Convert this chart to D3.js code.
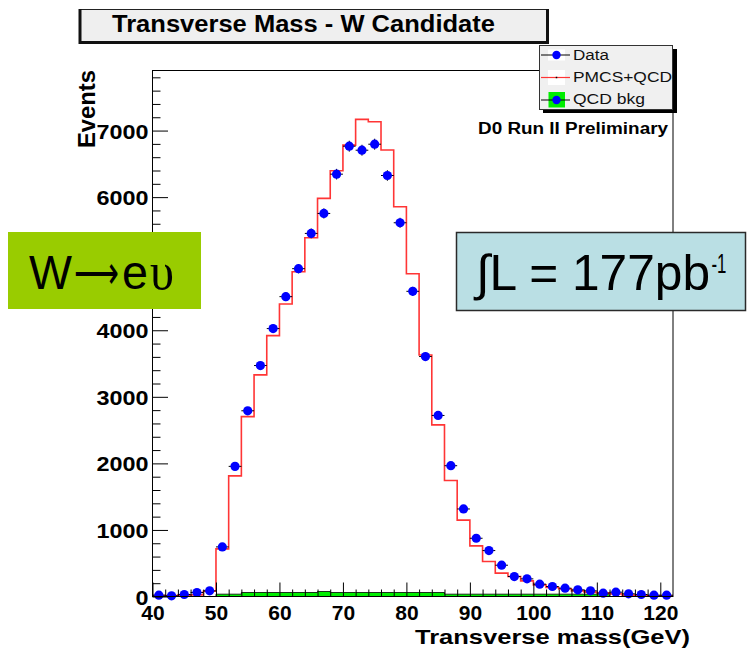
<!DOCTYPE html>
<html><head><meta charset="utf-8">
<script src="https://cdn.jsdelivr.net/npm/d3@7"></script>
<style>
html,body{margin:0;padding:0;background:#fff;}
svg{display:block;font-family:"Liberation Sans",Arial,Helvetica,sans-serif;}
</style></head><body>
<svg id="chart" width="747" height="653"></svg>
<script>
// Lower edges of the 2 GeV transverse-mass bins (40 .. 122 GeV)
const binLow = d3.range(40, 122, 2);
const binWidth = 2;

// Observed events per bin
const dataCounts = [
  20, 10, 30, 60, 85,
  745, 1955, 2790, 3470, 4025,
  4505, 4925, 5455, 5755, 6345,
  6765, 6705, 6795, 6325, 5615,
  4585, 3605, 2720, 1965, 1315,
  875, 690, 470, 300, 265,
  185, 150, 125, 100, 85,
  50, 65, 40, 30, 20,
  20
];

// PMCS simulation plus QCD background
const mcCounts = [
  15, 15, 20, 25, 80,
  716, 1812, 2703, 3329, 3920,
  4395, 4880, 5390, 5982, 6397,
  6782, 7168, 7132, 6707, 5856,
  4850, 3629, 2578, 1742, 1147,
  761, 526, 351, 300, 235,
  175, 135, 115, 85, 65,
  55, 40, 20, 10, 10,
  10
];

// QCD background estimate
const qcdCounts = [
  0, 0, 0, 0, 0,
  35, 35, 60, 60, 60,
  60, 60, 60, 75, 60,
  60, 60, 60, 60, 60,
  60, 60, 60, 35, 35,
  35, 35, 35, 35, 35,
  35, 35, 35, 35, 35,
  35, 0, 0, 0, 0,
  0
];

const xMajorTicks = d3.range(40, 121, 10);
const yMajorTicks = d3.range(0, 7001, 1000);

const titleText = "Transverse Mass - W Candidate";
const xTitle = "Transverse mass(GeV)";
const yTitle = "Events";
const legendLabels = ["Data", "PMCS+QCD", "QCD bkg"];
const runLabel = "D0 Run II Preliminary";
const lumiLabel = "\u222BL = 177pb";
const lumiExponent = "-1";

const svg = d3.select("#chart");
const x = d3.scaleLinear().domain([40, 122]).range([152.5, 673]);
const y = d3.scaleLinear().domain([0, 7910]).range([596.5, 70]);

const bins = binLow.map((lo, i) => ({lo, data: dataCounts[i], mc: mcCounts[i], qcd: qcdCounts[i]}));
const stepPts = key => bins.map(b => [b.lo, b[key]]).concat([[binLow[binLow.length - 1] + binWidth, bins[bins.length - 1][key]]]);

const plot = svg.append("g");

// QCD background: green fill with black outline
plot.append("path")
  .datum(stepPts("qcd"))
  .attr("d", d3.area().curve(d3.curveStepAfter).x(d => x(d[0])).y0(y(0)).y1(d => y(d[1])))
  .attr("fill", "#00ee00");
plot.append("path")
  .datum(stepPts("qcd"))
  .attr("d", d3.line().curve(d3.curveStepAfter).x(d => x(d[0])).y(d => y(d[1])))
  .attr("fill", "none").attr("stroke", "#000").attr("stroke-width", 0.8);

// Simulation histogram
plot.append("path")
  .datum(stepPts("mc"))
  .attr("d", d3.line().curve(d3.curveStepAfter).x(d => x(d[0])).y(d => y(d[1])))
  .attr("fill", "none").attr("stroke", "#ff3535").attr("stroke-width", 1.6);

// Data: error bars and markers
const pts = plot.append("g");
pts.selectAll("line.h").data(bins).join("line")
  .attr("x1", d => x(d.lo)).attr("x2", d => x(d.lo + binWidth))
  .attr("y1", d => y(d.data)).attr("y2", d => y(d.data))
  .attr("stroke", "#000").attr("stroke-width", 1);
pts.selectAll("line.v").data(bins).join("line")
  .attr("x1", d => x(d.lo + binWidth / 2)).attr("x2", d => x(d.lo + binWidth / 2))
  .attr("y1", d => y(d.data + Math.sqrt(d.data))).attr("y2", d => y(Math.max(0, d.data - Math.sqrt(d.data))))
  .attr("stroke", "#000").attr("stroke-width", 1);
pts.selectAll("circle").data(bins).join("circle")
  .attr("cx", d => x(d.lo + binWidth / 2)).attr("cy", d => y(d.data))
  .attr("r", 4.6).attr("fill", "#0000ff");

// Frame
svg.append("rect").attr("x", 152.5).attr("y", 70.5).attr("width", 520.5).attr("height", 526)
  .attr("fill", "none").attr("stroke", "#000").attr("stroke-width", 1);

// X axis
const xAxisG = svg.append("g").attr("transform", "translate(0,596.5)");
xAxisG.call(d3.axisBottom(x).tickValues(d3.range(42, 122, 2).filter(v => v % 10 !== 0)).tickSize(-7).tickFormat(""));
xAxisG.append("g").call(d3.axisBottom(x).tickValues(xMajorTicks).tickSize(-14).tickFormat(d3.format("d")));
xAxisG.selectAll(".domain").remove();
xAxisG.selectAll("line").attr("stroke", "#000");
xAxisG.selectAll("text").attr("dy", null).attr("y", 23.5)
  .attr("font-size", 21).attr("font-weight", "bold").attr("fill", "#000")
  .attr("font-family", "'Liberation Sans',Arial,sans-serif");

// Y axis
const yAxisG = svg.append("g").attr("transform", "translate(152.5,0)");
yAxisG.call(d3.axisLeft(y).tickValues(d3.range(200, 7801, 200).filter(v => v % 1000 !== 0)).tickSize(-8).tickFormat(""));
yAxisG.append("g").call(d3.axisLeft(y).tickValues(yMajorTicks).tickSize(-15.5).tickPadding(4).tickFormat(d3.format("d")));
yAxisG.selectAll(".domain").remove();
yAxisG.selectAll("line").attr("stroke", "#000");
yAxisG.selectAll("text").attr("font-size", 21).attr("font-weight", "bold").attr("fill", "#000")
  .attr("font-family", "'Liberation Sans',Arial,sans-serif")
  .attr("dy", "0.36em")
  .attr("textLength", function() { return this.textContent.length * 13; })
  .attr("lengthAdjust", "spacingAndGlyphs");

// Axis titles
svg.append("text").attr("x", 690).attr("y", 644).attr("text-anchor", "end")
  .attr("font-size", 21).attr("font-weight", "bold")
  .attr("textLength", 275).attr("lengthAdjust", "spacingAndGlyphs").text(xTitle);
svg.append("text").attr("transform", "translate(94.5,70) rotate(-90)").attr("text-anchor", "end")
  .attr("font-size", 23).attr("font-weight", "bold")
  .attr("textLength", 78).attr("lengthAdjust", "spacingAndGlyphs").text(yTitle);

// Title box
const tb = svg.append("g");
tb.append("rect").attr("x", 79).attr("y", 9.5).attr("width", 468).attr("height", 33).attr("fill", "#efefef");
tb.append("line").attr("x1", 79).attr("x2", 548).attr("y1", 9.5).attr("y2", 9.5).attr("stroke", "#222").attr("stroke-width", 1);
tb.append("line").attr("x1", 80).attr("x2", 80).attr("y1", 9).attr("y2", 44).attr("stroke", "#111").attr("stroke-width", 3);
tb.append("line").attr("x1", 547.5).attr("x2", 547.5).attr("y1", 9).attr("y2", 44).attr("stroke", "#111").attr("stroke-width", 3);
tb.append("line").attr("x1", 79).attr("x2", 549).attr("y1", 42.5).attr("y2", 42.5).attr("stroke", "#111").attr("stroke-width", 3);
tb.append("text").attr("x", 112).attr("y", 31.5).attr("font-size", 23).attr("font-weight", "bold")
  .attr("textLength", 383).attr("lengthAdjust", "spacingAndGlyphs").text(titleText);

// Legend
const lg = svg.append("g");
lg.append("rect").attr("x", 543).attr("y", 49).attr("width", 134).attr("height", 64).attr("fill", "#000");
lg.append("rect").attr("x", 539.5).attr("y", 45.5).attr("width", 133).attr("height", 64)
  .attr("fill", "#f0f0f0").attr("stroke", "#333").attr("stroke-width", 1);
const rowY = [55, 77.5, 100];
const symX0 = 541, symX1 = 570, symC = 556.5;
// Data entry
lg.append("rect").attr("x", 548).attr("y", 49.5).attr("width", 17).attr("height", 11).attr("fill", "#fff");
lg.append("line").attr("x1", symX0).attr("x2", symX1).attr("y1", rowY[0]).attr("y2", rowY[0]).attr("stroke", "#000");
lg.append("circle").attr("cx", symC).attr("cy", rowY[0]).attr("r", 4.2).attr("fill", "#0000ff");
// Simulation entry
lg.append("rect").attr("x", 548).attr("y", 70).attr("width", 17).attr("height", 15).attr("fill", "#fff");
lg.append("line").attr("x1", symX0).attr("x2", symX1).attr("y1", rowY[1]).attr("y2", rowY[1]).attr("stroke", "#ff3535").attr("stroke-width", 1.2);
lg.append("rect").attr("x", symC - 0.75).attr("y", rowY[1] - 0.75).attr("width", 1.5).attr("height", 1.5).attr("fill", "#000");
// QCD entry
lg.append("rect").attr("x", 548.5).attr("y", 92).attr("width", 16.5).attr("height", 15.5).attr("fill", "#00ee00");
lg.append("line").attr("x1", symX0).attr("x2", symX1).attr("y1", rowY[2]).attr("y2", rowY[2]).attr("stroke", "#000");
lg.append("circle").attr("cx", symC).attr("cy", rowY[2]).attr("r", 4.2).attr("fill", "#0000ff");
const legW = [36, 99, 72];
lg.selectAll("text").data(legendLabels).join("text")
  .attr("x", 573).attr("y", (d, i) => [59.5, 81.5, 104][i])
  .attr("font-size", 15.5).attr("fill", "#111")
  .attr("textLength", (d, i) => legW[i]).attr("lengthAdjust", "spacingAndGlyphs")
  .text(d => d);

svg.append("text").attr("x", 478).attr("y", 134).attr("font-size", 16).attr("font-weight", "bold")
  .attr("textLength", 190).attr("lengthAdjust", "spacingAndGlyphs").text(runLabel);

// Channel box: W -> e nu, one glyph run per symbol
svg.append("rect").attr("x", 8).attr("y", 232).attr("width", 193).attr("height", 77).attr("fill", "#99cc00");
const channelParts = [
  {t: "W", x: 29, w: 43, family: "'Liberation Sans',Arial,sans-serif", size: 49, weight: 400},
  {t: "\u27F6", x: 74, w: 45, family: "'DejaVu Sans',sans-serif", size: 46, weight: 200},
  {t: "e", x: 122, w: 26, family: "'Liberation Sans',Arial,sans-serif", size: 49, weight: 400},
  {t: "\u03C5", x: 150, w: 24, family: "'Liberation Serif',serif", size: 52, weight: 400}
];
svg.append("g").selectAll("text").data(channelParts).join("text")
  .attr("x", d => d.x).attr("y", 288.5)
  .attr("font-family", d => d.family).attr("font-size", d => d.size).attr("font-weight", d => d.weight)
  .attr("textLength", d => d.w).attr("lengthAdjust", "spacingAndGlyphs")
  .text(d => d.t);

// Luminosity box
svg.append("rect").attr("x", 456.5).attr("y", 232.5).attr("width", 289).attr("height", 78)
  .attr("fill", "#badfe4").attr("stroke", "#2a2a2a").attr("stroke-width", 1.5);
svg.append("text").attr("x", 476).attr("y", 290).attr("font-size", 50)
  .attr("textLength", 234).attr("lengthAdjust", "spacingAndGlyphs").text(lumiLabel);
svg.append("text").attr("x", 711.5).attr("y", 273).attr("font-size", 28)
  .attr("textLength", 15).attr("lengthAdjust", "spacingAndGlyphs").text(lumiExponent);
</script>
</body></html>
